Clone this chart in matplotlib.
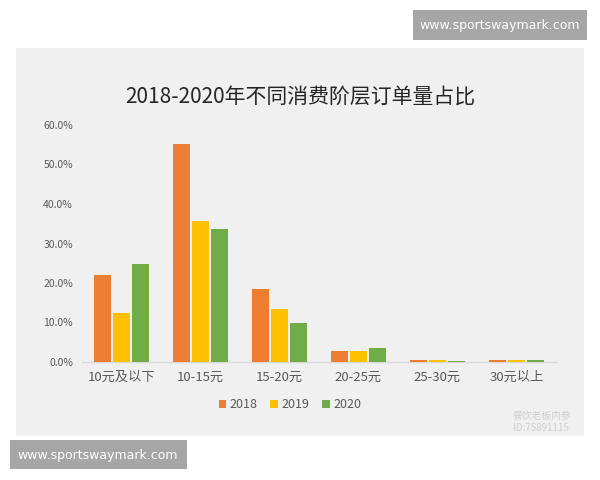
import matplotlib
matplotlib.use("Agg")
import matplotlib.pyplot as plt
import numpy as np
from matplotlib.patches import Rectangle

plt.rcParams['font.family'] = ['Noto Sans CJK SC', 'DejaVu Sans']

categories = ["10元及以下", "10-15元", "15-20元", "20-25元", "25-30元", "30元以上"]
series_names = ["2018", "2019", "2020"]
v2018 = [22.0, 55.3, 18.5, 2.8, 0.5, 0.5]
v2019 = [12.5, 35.6, 13.4, 2.8, 0.4, 0.6]
v2020 = [24.9, 33.6, 9.9, 3.5, 0.3, 0.6]
yticks = [0, 10, 20, 30, 40, 50, 60]
colors = ["#ED7D31", "#FFC000", "#70AD47"]

W, H = 600, 480
fig = plt.figure(figsize=(6, 4.8), dpi=100)
fig.patch.set_facecolor("white")

# grey panel
fig.patches.append(Rectangle((16 / W, 1 - 436 / H), (584 - 16) / W, (436 - 48) / H,
                             transform=fig.transFigure, facecolor="#F0F0F0",
                             edgecolor="none", zorder=-5))

ax = fig.add_axes([82 / W, 1 - 362 / H, (556 - 82) / W, (362 - 125) / H])
ax.set_facecolor("none")
ax.set_zorder(2)

x = np.arange(len(categories))
off = 0.24
w = 0.21
for i, (vals, name) in enumerate(zip([v2018, v2019, v2020], series_names)):
    ax.bar(x + (i - 1) * off, vals, width=w, color=colors[i], label=name, zorder=3)

ax.set_xlim(-0.5, len(categories) - 0.5)
ax.set_ylim(0, 60)
ax.set_yticks(yticks)
ax.set_yticklabels([f"{t:.1f}%" for t in yticks], fontsize=7.5, color="#595959")
ax.set_xticks(x)
ax.set_xticklabels(categories, fontsize=9.5, color="#595959")
ax.tick_params(axis="both", length=0)
ax.tick_params(axis="y", pad=6.5)
ax.tick_params(axis="x", pad=6)
for s in ["top", "right", "left"]:
    ax.spines[s].set_visible(False)
ax.spines["bottom"].set_color("#D9D9D9")
ax.spines["bottom"].set_linewidth(1)

fig.text(300 / W, 1 - 97 / H, "2018-2020年不同消费阶层订单量占比", ha="center",
         va="center", fontsize=15, color="#262626", fontweight="light")

leg = ax.legend(loc="center", bbox_to_anchor=(290 / W, 1 - 405 / H),
                bbox_transform=fig.transFigure, ncol=3, frameon=False,
                fontsize=9, handlelength=0.6, handleheight=0.6,
                handletextpad=0.3, columnspacing=1.0)
for t in leg.get_texts():
    t.set_color("#595959")

# watermarks
fig.patches.append(Rectangle((413 / W, 1 - 40 / H), (587 - 413) / W, 30 / H,
                             transform=fig.transFigure, facecolor="#A6A6A6",
                             edgecolor="none", zorder=-4))
fig.text(500 / W, 1 - 25 / H, "www.sportswaymark.com", ha="center", va="center",
         fontsize=9, color="white", family=["DejaVu Sans"])
fig.patches.append(Rectangle((10 / W, 1 - 469 / H), (187 - 10) / W, 29 / H,
                             transform=fig.transFigure, facecolor="#A6A6A6",
                             edgecolor="none", zorder=-4))
fig.text(98 / W, 1 - 455 / H, "www.sportswaymark.com", ha="center", va="center",
         fontsize=9, color="white", family=["DejaVu Sans"])
fig.text(513 / W, 1 - 416 / H, "餐饮老板内参", ha="left", va="center",
         fontsize=7, color="#D0D0D0")
fig.text(513 / W, 1 - 428 / H, "ID:75891115", ha="left", va="center",
         fontsize=7, color="#D0D0D0")

fig.savefig("out.png", dpi=100, facecolor="white")
